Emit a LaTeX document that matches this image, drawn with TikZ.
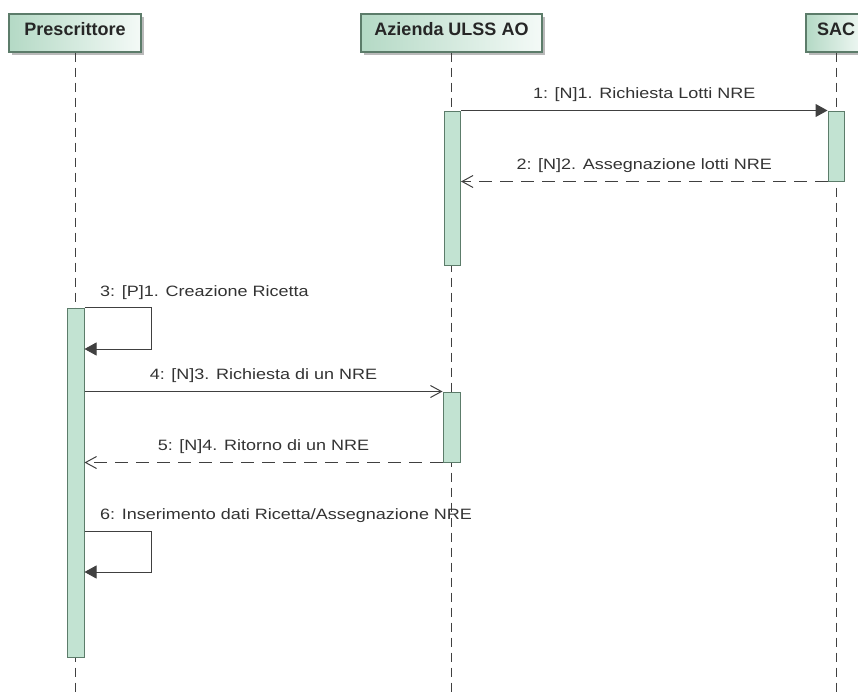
\documentclass[tikz,border=0pt]{standalone}
\usepackage{fontspec}
\setmainfont{Liberation Sans}
\usepackage{graphicx}
\usetikzlibrary{arrows.meta,shadows}

\definecolor{actfill}{RGB}{194,227,210}
\definecolor{actline}{RGB}{92,124,106}
\definecolor{headleft}{RGB}{180,217,197}
\definecolor{headright}{RGB}{244,250,247}
\definecolor{ink}{RGB}{64,64,64}

\newcommand{\msgtext}[1]{\scalebox{1.2}[1]{#1}}

\tikzset{
  header/.style={draw=actline, line width=1.2pt, left color=headleft, right color=headright,
    minimum height=38pt, inner sep=0pt, text=black!85,
    font=\bfseries\fontsize{18}{20}\selectfont, text height=13pt, text depth=8pt,
    drop shadow={shadow xshift=3pt, shadow yshift=-3pt, fill=black!45, opacity=0.6}},
  lifeline/.style={draw=ink, line width=1pt, dash pattern=on 9pt off 6pt},
  act/.style={draw=actline, fill=actfill, line width=1pt, inner sep=0pt, minimum width=16pt},
  msg/.style={draw=ink, line width=1pt},
  call/.style={msg, -{Triangle[length=12pt,width=13pt]}},
  send/.style={msg, -{Straight Barb[length=11pt,width=12pt]}},
  reply/.style={send, dash pattern=on 13pt off 8pt},
  lbl/.style={font=\fontsize{15}{18}\selectfont, text=black!80, inner sep=0pt}
}

\begin{document}
\begin{tikzpicture}[x=1pt,y=-1pt]
  \useasboundingbox (0,0) rectangle (858,693);
  % participants
  \node[header, minimum width=132pt] (pr) at (75,33) {Prescrittore};
  \node[header, minimum width=181pt] (az) at (451.5,33) {Azienda ULSS AO};
  \node[header, minimum width=60pt] (sac) at (836,33) {SAC};
  % lifelines
  \draw[lifeline] (pr.south) -- (pr.south |- 0,693);
  \draw[lifeline] (az.south) -- (az.south |- 0,693);
  \draw[lifeline] (sac.south) -- (sac.south |- 0,693);
  % activations
  \node[act, minimum height=154pt] (azA) at (452.5,188) {};
  \node[act, minimum height=70pt] (sacA) at (836,146) {};
  \node[act, minimum width=17pt, minimum height=349pt] (prA) at (75.5,482.5) {};
  \node[act, minimum width=17pt, minimum height=70pt] (azB) at (451.5,427) {};
  % messages
  \draw[call] (azA.north east) -- (sacA.north west)
    node[lbl, midway, above=8pt] (m1) {\msgtext{1: [N]1. Richiesta Lotti NRE}};
  \draw[reply] (sacA.south west) -- (azA.east |- sacA.south)
    node[lbl, midway, above=8pt] (m2) {\msgtext{2: [N]2. Assegnazione lotti NRE}};
  \draw[call] (prA.north east) -- ++(67,0) |- (prA.east |- 0,349);
  \node[lbl, anchor=south west] (m3) at (100,300) {\msgtext{3: [P]1. Creazione Ricetta}};
  \draw[send] (prA.east |- azB.north) -- (azB.north west)
    node[lbl, midway, above=8pt] (m4) {\msgtext{4: [N]3. Richiesta di un NRE}};
  \draw[reply] (azB.south west) -- (prA.east |- azB.south)
    node[lbl, midway, above=8pt] (m5) {\msgtext{5: [N]4. Ritorno di un NRE}};
  \draw[call] (prA.east |- 0,531) -- ++(67,0) |- (prA.east |- 0,572);
  \node[lbl, anchor=south west] (m6) at (100,523) {\msgtext{6: Inserimento dati Ricetta/Assegnazione NRE}};
\end{tikzpicture}
\end{document}
